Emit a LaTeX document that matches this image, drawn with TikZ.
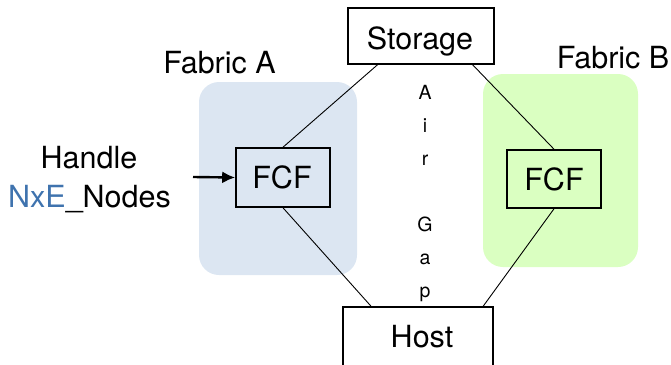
\documentclass[tikz,border=0pt]{standalone}
\usepackage{fontspec}
\setmainfont{TeX Gyre Heros}
\usetikzlibrary{calc,arrows.meta}
\definecolor{fabA}{HTML}{DCE6F2}
\definecolor{fabB}{HTML}{DAFFC1}
\definecolor{nxe}{HTML}{3F73AE}
\tikzset{
  boxn/.style={draw=black, line width=1.6pt, inner sep=0pt},
  big/.style={font=\fontsize{30.5}{34}\selectfont},
  small/.style={font=\fontsize{19.5}{22}\selectfont},
  link/.style={draw=black, line width=0.9pt},
  fabric/.style={rounded corners=20pt, draw=none},
}
\begin{document}
\begin{tikzpicture}[x=1pt,y=-1pt]
\useasboundingbox (0,0) rectangle (671,364);
\clip (0,0) rectangle (671,364);
% fabric backgrounds
\fill[fabA, fabric] (199,82) rectangle (357,275);
\fill[fabB, fabric] (483,74) rectangle (638,267);
% nodes
\node[boxn, minimum width=146pt, minimum height=56pt] (storage) at (421,36) {};
\node[big, anchor=base] at (420,49) {Storage};
\node[boxn, minimum width=150pt, minimum height=66pt] (host) at (418,340) {};
\node[big, anchor=base] at (422,347) {Host};
\node[boxn, minimum width=94pt, minimum height=59pt] (fcfa) at (283,177.5) {};
\node[big, anchor=base] at (282,188) {FCF};
\node[boxn, minimum width=94pt, minimum height=58pt] (fcfb) at (554,179) {};
\node[big, anchor=base] at (554,190) {FCF};
% labels
\node[big, anchor=base] (fabricA) at (219.5,73) {Fabric A};
\node[big, anchor=base east, inner sep=0pt] (fabricB) at (669.5,68) {Fabric B};
\node[big, anchor=base] (handle) at (89,168) {Handle};
\node[big, anchor=base] (nodes) at (89.5,207) {\textcolor{nxe}{NxE}\_Nodes};
% air gap letters
\foreach \l/\yy [count=\i] in {A/99,i/132,r/165,G/231,a/264,p/297}{
  \node[small, anchor=base] (gap\i) at (425,\yy) {\l};
}
% connectors
\draw[link] ($(storage.south west)!0.205!(storage.south east)$) -- (fcfa.north);
\draw[link] ($(storage.south west)!0.85!(storage.south east)$) -- (fcfb.north);
\draw[link] ($(host.north west)!0.19!(host.north east)$) -- (fcfa.south);
\draw[link] ($(host.north west)!0.93!(host.north east)$) -- (fcfb.south);
\coordinate (arrowstart) at (193,177);
\draw[line width=2.4pt, -{Latex[length=13pt,width=12pt]}] (arrowstart) -- (fcfa.west);
\end{tikzpicture}
\end{document}
